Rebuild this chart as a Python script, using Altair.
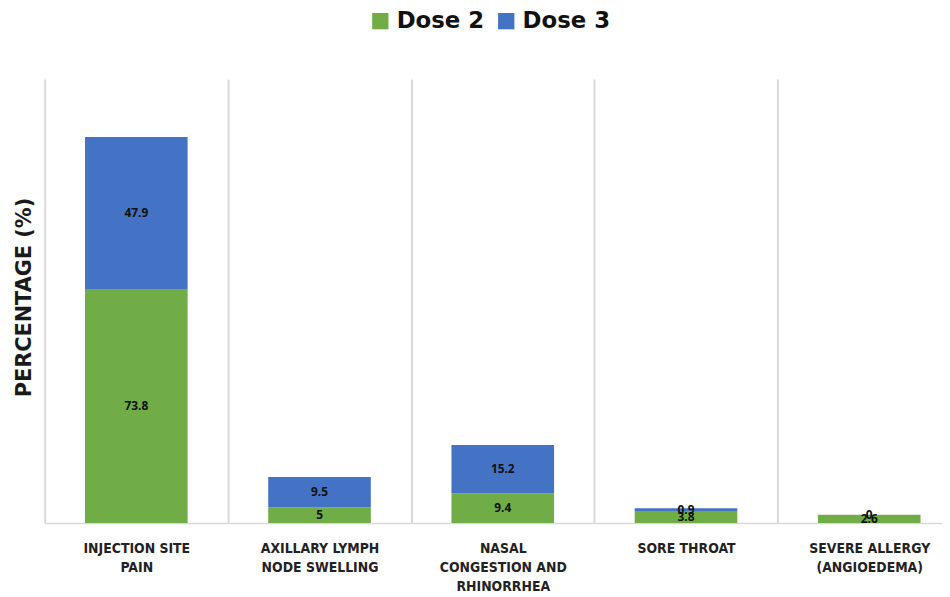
import altair as alt
import pandas as pd

categories = [
    "INJECTION SITE\nPAIN",
    "AXILLARY LYMPH\nNODE SWELLING",
    "NASAL\nCONGESTION AND\nRHINORRHEA",
    "SORE THROAT",
    "SEVERE ALLERGY\n(ANGIOEDEMA)",
]
series = ["Dose 2", "Dose 3"]
dose2 = [73.8, 5, 9.4, 3.8, 2.6]
dose3 = [47.9, 9.5, 15.2, 0.9, 0]
colors = ["#70AD47", "#4472C4"]

rows = []
for i, c in enumerate(categories):
    rows.append({"category": c, "series": "Dose 2", "order": 0, "value": dose2[i], "label": f"{dose2[i]:g}"})
    rows.append({"category": c, "series": "Dose 3", "order": 1, "value": dose3[i], "label": f"{dose3[i]:g}"})
df = pd.DataFrame(rows)

font = "Open Sans"
wide = "DejaVu Sans"
cond = "DejaVu Sans Condensed, DejaVu Sans"

base = alt.Chart(df).transform_stack(
    stack="value",
    groupby=["category"],
    sort=[alt.SortField("order", order="ascending")],
    as_=["y0", "y1"],
).transform_calculate(mid="(datum.y0 + datum.y1) / 2")

xscale = alt.Scale(range=[0, 924], paddingInner=0, paddingOuter=0)
xaxis = alt.Axis(
    title=None,
    labelAngle=0,
    labelExpr="split(datum.label, '\\n')",
    labelFont=cond,
    labelFontSize=14,
    labelFontWeight="bold",
    labelColor="#222222",
    labelLineHeight=19,
    labelPadding=19,
    labelBaseline="top",
    ticks=False,
    grid=True,
    gridColor="#d9d9d9",
    gridWidth=2,
    tickBand="extent",
    domainColor="#d9d9d9",
    domainWidth=1.5,
)

yscale = alt.Scale(domain=[0, 140], nice=False)
yaxis = alt.Axis(
    title="PERCENTAGE (%)",
    labels=False,
    ticks=False,
    domain=False,
    grid=False,
    titleFont=wide,
    titleFontSize=21,
    titleFontWeight="bold",
    titleColor="#1a1a1a",
    titleAngle=270,
    titleX=-20,
    titleY=220,
    titleAlign="center",
    titleBaseline="middle",
)

bars = base.mark_bar(width=alt.RelativeBandSize(0.56)).encode(
    x=alt.X("category:N", sort=categories, scale=xscale, axis=xaxis),
    y=alt.Y("y0:Q", scale=yscale, axis=yaxis),
    y2="y1:Q",
    color=alt.Color(
        "series:N",
        scale=alt.Scale(domain=series, range=colors),
        legend=alt.Legend(
            title=None,
            orient="none",
            direction="horizontal",
            legendX=327,
            legendY=-70,
            symbolType="square",
            symbolSize=270,
            symbolStrokeWidth=0,
            labelFont=wide,
            labelFontSize=23,
            labelFontWeight="bold",
            labelColor="#111111",
            labelOffset=5,
            columnPadding=10,
        ),
    ),
)

texts = base.mark_text(
    font=font, fontSize=12, fontWeight="bold", color="#111111", baseline="middle"
).encode(
    x=alt.X("category:N", sort=categories, scale=xscale, axis=xaxis),
    y=alt.Y("mid:Q", scale=yscale, axis=yaxis),
    text="label:N",
)

chart = (
    alt.layer(bars, texts)
    .properties(
        width=900,
        height=448,
        background="white",
        autosize=alt.AutoSizeParams(type="none"),
        padding={"left": 37, "top": 69, "right": 5, "bottom": 72},
    )
    .configure_view(strokeWidth=0)
)

chart.save("out.html", embed_options={"renderer": "svg", "actions": False})
